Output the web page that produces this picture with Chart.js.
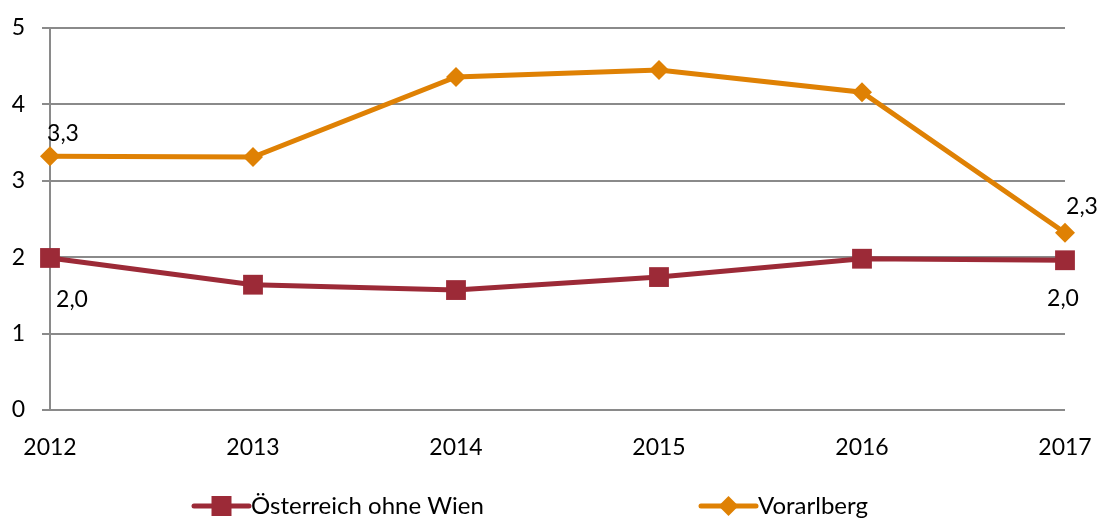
<!DOCTYPE html>
<html>
<head>
<meta charset="utf-8">
<script src="https://cdn.jsdelivr.net/npm/chart.js@4.4.1/dist/chart.umd.min.js"></script>
<style>
html,body{margin:0;padding:0;background:#fff;}
#wrap{width:1102px;height:519px;position:relative;}
</style>
</head>
<body>
<div id="wrap"><canvas id="c" width="1102" height="519"></canvas></div>
<script>
const categories = ['2012','2013','2014','2015','2016','2017'];
const seriesNames = ['Österreich ohne Wien','Vorarlberg'];
const oesterreich = [1.99, 1.64, 1.57, 1.74, 1.98, 1.96];
const vorarlberg = [3.32, 3.31, 4.36, 4.45, 4.16, 2.32];
const yTicks = [0,1,2,3,4,5];
// labelled points: [series index, point index, text]
const pointLabels = [
  [1, 0, '3,3'],
  [1, 5, '2,3'],
  [0, 0, '2,0'],
  [0, 5, '2,0']
];

const FONT = 'Lato, "Open Sans", sans-serif';
const RED = '#9c2a37';
const ORANGE = '#df8104';
const GRID = '#8a8a8a';

const labelOffsets = {
  '1-0': [13, -23], '1-5': [17, -26], '0-0': [22, 42], '0-5': [-2, 38]
};

const dataLabelPlugin = {
  id: 'dataLabels',
  afterDatasetsDraw(chart) {
    const ctx = chart.ctx;
    ctx.save();
    ctx.font = '23px ' + FONT;
    ctx.fillStyle = '#000';
    ctx.textAlign = 'center';
    ctx.textBaseline = 'middle';
    pointLabels.forEach(([ds, i, txt]) => {
      const el = chart.getDatasetMeta(ds).data[i];
      const off = labelOffsets[ds + '-' + i];
      ctx.fillText(txt, el.x + off[0], el.y + off[1]);
    });
    ctx.restore();
  }
};

const legendPos = [[194, 249], [701, 756]];
const customLegend = {
  id: 'customLegend',
  afterDraw(chart) {
    const ctx = chart.ctx;
    const y = 506;
    ctx.save();
    chart.data.datasets.forEach((ds, k) => {
      const [x1, x2] = legendPos[k];
      ctx.strokeStyle = ds.borderColor;
      ctx.lineWidth = 5;
      ctx.lineCap = 'round';
      ctx.beginPath(); ctx.moveTo(x1, y); ctx.lineTo(x2, y); ctx.stroke();
      const cx = (x1 + x2) / 2;
      ctx.fillStyle = ds.borderColor;
      ctx.beginPath();
      if (ds.pointStyle === 'rect') {
        ctx.rect(cx - 10, y - 10, 20, 20);
      } else {
        ctx.moveTo(cx, y - 10); ctx.lineTo(cx + 10, y); ctx.lineTo(cx, y + 10); ctx.lineTo(cx - 10, y); ctx.closePath();
      }
      ctx.fill();
      ctx.font = '24px ' + FONT;
      ctx.fillStyle = '#000';
      ctx.textAlign = 'left';
      ctx.textBaseline = 'middle';
      ctx.fillText(ds.label, x2 + 2, y);
    });
    ctx.restore();
  }
};

new Chart(document.getElementById('c'), {
  type: 'line',
  data: {
    labels: categories,
    datasets: [
      {
        label: seriesNames[0], data: oesterreich,
        borderColor: RED, backgroundColor: RED, borderWidth: 5,
        pointStyle: 'rect', pointRadius: 14, pointHoverRadius: 14,
        pointBorderWidth: 0, pointBackgroundColor: RED,
        tension: 0, clip: false
      },
      {
        label: seriesNames[1], data: vorarlberg,
        borderColor: ORANGE, backgroundColor: ORANGE, borderWidth: 5,
        pointStyle: 'rectRot', pointRadius: 10, pointHoverRadius: 10,
        pointBorderWidth: 0, pointBackgroundColor: ORANGE,
        tension: 0, clip: false
      }
    ]
  },
  options: {
    responsive: false,
    animation: false,
    events: [],
    layout: { padding: { left: 0, right: 37, top: 28, bottom: 0 } },
    plugins: { legend: { display: false }, tooltip: { enabled: false } },
    scales: {
      x: {
        offset: false,
        grid: { display: false },
        border: { display: false },
        ticks: { color: '#000', font: { family: FONT, size: 23 }, padding: 16, maxRotation: 0, autoSkip: false },
        afterFit(s) { s.height = 109; s.paddingLeft = 0; s.paddingRight = 0; }
      },
      y: {
        min: 0, max: 5,
        afterBuildTicks(s) { s.ticks = yTicks.map(v => ({ value: v })); },
        grid: { color: GRID, lineWidth: 2, tickLength: 8, drawTicks: true },
        border: { display: true, color: GRID, width: 2 },
        ticks: { color: '#000', font: { family: FONT, size: 23 }, padding: 17 },
        afterFit(s) { s.width = 50; s.paddingTop = 0; s.paddingBottom = 0; }
      }
    }
  },
  plugins: [dataLabelPlugin, customLegend]
});
</script>
</body>
</html>
